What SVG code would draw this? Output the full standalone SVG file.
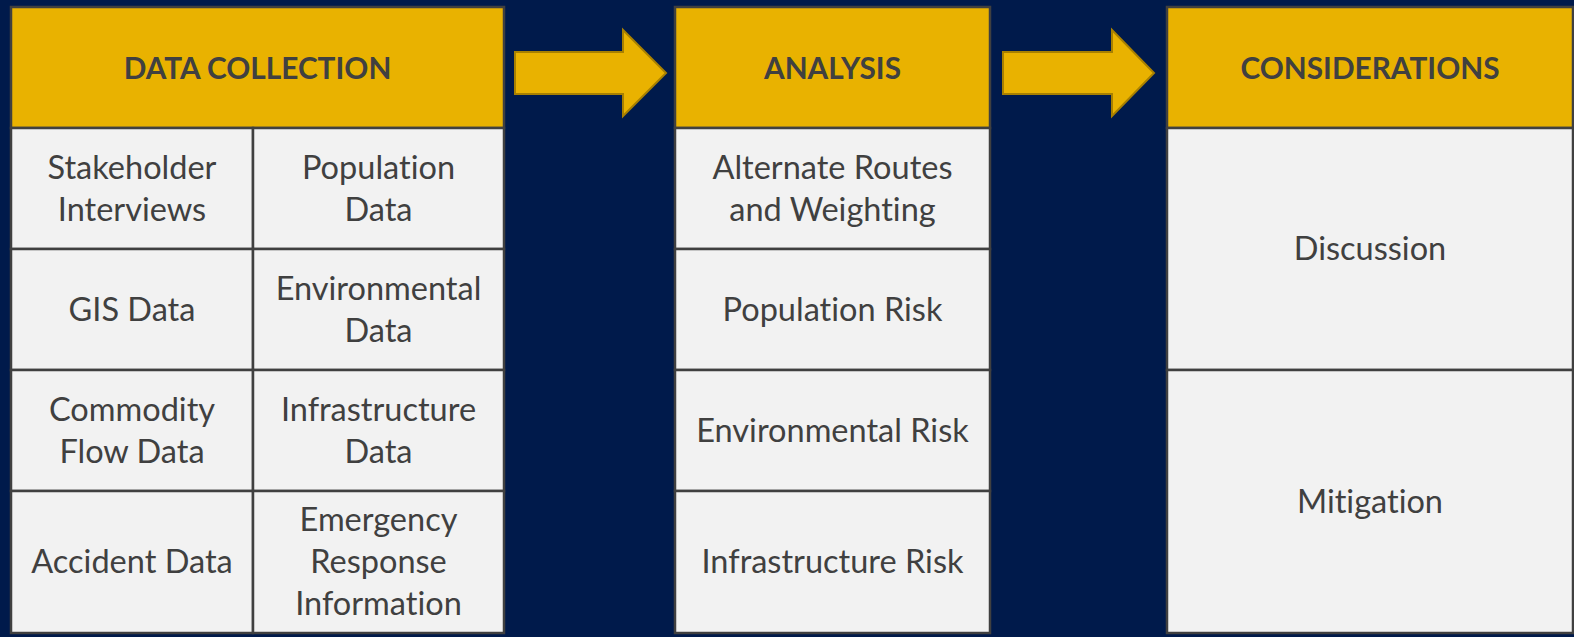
<svg xmlns="http://www.w3.org/2000/svg" width="1574" height="637" viewBox="0 0 1574 637">
  <style>
    .bg { fill: #001A4B; }
    .head { fill: #E9B200; stroke: #404040; stroke-width: 2.5; }
    .cell { fill: #F2F2F2; stroke: #404040; stroke-width: 2.5; }
    .arrow { fill: #E9B200; stroke: #A88000; stroke-width: 2; stroke-linejoin: miter; }
    .ht { font-family: Lato, "Liberation Sans", sans-serif; font-weight: 700; font-size: 29.8px; fill: #404040; text-anchor: middle; font-variant-ligatures: none; }
    .t { font-family: Lato, "Liberation Sans", sans-serif; font-size: 32.5px; fill: #404040; text-anchor: middle; font-variant-ligatures: none; }
  </style>
  <rect class="bg" x="0" y="0" width="1574" height="637"/>

  <!-- Stage 1: data collection -->
  <g id="data-collection">
    <rect class="head" x="11" y="7" width="493" height="121"/>
    <text class="ht" x="257.5" y="79">DATA COLLECTION</text>
    <rect class="cell" x="11" y="128" width="242" height="121"/>
    <rect class="cell" x="253" y="128" width="251" height="121"/>
    <rect class="cell" x="11" y="249" width="242" height="121"/>
    <rect class="cell" x="253" y="249" width="251" height="121"/>
    <rect class="cell" x="11" y="370" width="242" height="121"/>
    <rect class="cell" x="253" y="370" width="251" height="121"/>
    <rect class="cell" x="11" y="491" width="242" height="142"/>
    <rect class="cell" x="253" y="491" width="251" height="142"/>
    <text class="t" x="132" y="179">Stakeholder</text>
    <text class="t" x="132" y="221">Interviews</text>
    <text class="t" x="378.5" y="179">Population</text>
    <text class="t" x="378.5" y="221">Data</text>
    <text class="t" x="132" y="320.5">GIS Data</text>
    <text class="t" x="378.5" y="300">Environmental</text>
    <text class="t" x="378.5" y="342">Data</text>
    <text class="t" x="132" y="421">Commodity</text>
    <text class="t" x="132" y="463">Flow Data</text>
    <text class="t" x="378.5" y="421">Infrastructure</text>
    <text class="t" x="378.5" y="463">Data</text>
    <text class="t" x="132" y="573">Accident Data</text>
    <text class="t" x="378.5" y="531">Emergency</text>
    <text class="t" x="378.5" y="573">Response</text>
    <text class="t" x="378.5" y="615">Information</text>
  </g>

  <!-- Stage 2: analysis -->
  <g id="analysis">
    <rect class="head" x="675" y="7" width="315" height="121"/>
    <text class="ht" x="832.5" y="79">ANALYSIS</text>
    <rect class="cell" x="675" y="128" width="315" height="121"/>
    <rect class="cell" x="675" y="249" width="315" height="121"/>
    <rect class="cell" x="675" y="370" width="315" height="121"/>
    <rect class="cell" x="675" y="491" width="315" height="142"/>
    <text class="t" x="832.5" y="179">Alternate Routes</text>
    <text class="t" x="832.5" y="221">and Weighting</text>
    <text class="t" x="832.5" y="320.5">Population Risk</text>
    <text class="t" x="832.5" y="441.5">Environmental Risk</text>
    <text class="t" x="832.5" y="573">Infrastructure Risk</text>
  </g>

  <!-- Stage 3: considerations -->
  <g id="considerations">
    <rect class="head" x="1167" y="7" width="406" height="121"/>
    <text class="ht" x="1370" y="79">CONSIDERATIONS</text>
    <rect class="cell" x="1167" y="128" width="406" height="242"/>
    <rect class="cell" x="1167" y="370" width="406" height="263"/>
    <text class="t" x="1370" y="260">Discussion</text>
    <text class="t" x="1370" y="512.5">Mitigation</text>
  </g>

  <!-- Block arrows between stages -->
  <g id="connectors">
    <polygon class="arrow" points="515,52 623,52 623,30 666,73 623,116 623,94 515,94"/>
    <polygon class="arrow" points="1003,52 1112,52 1112,30 1154,73 1112,116 1112,94 1003,94"/>
  </g>
</svg>
